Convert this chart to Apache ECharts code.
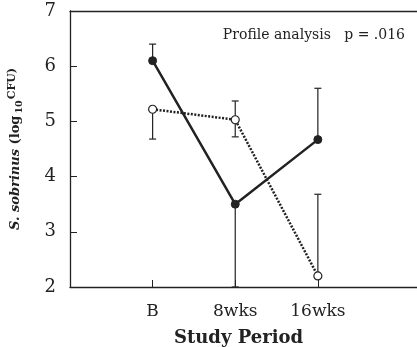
<!DOCTYPE html>
<html>
<head>
<meta charset="utf-8">
<script src="https://cdn.jsdelivr.net/npm/echarts@6/dist/echarts.min.js"></script>
<style>
  html, body { margin: 0; padding: 0; background: #fff; }
  #chart { width: 417px; height: 347px; }
</style>
</head>
<body>
<div id="chart"></div>
<script>
// categories on the x axis (placed at 1, 2, 3)
var categories = ['B', '8wks', '16wks'];
var catPos = [1, 2, 3];

// filled circles, solid line
var solidMean = [6.1, 3.5, 4.67];
var solidUpper = [6.4, null, 5.6];
var solidLower = [null, 2.0, null];

// open circles, dotted line
var openMean = [5.22, 5.03, 2.2];
var openUpper = [null, 5.37, 3.68];
var openLower = [4.68, 4.72, null];

var yTicks = [2, 3, 4, 5, 6, 7];

var serif = 'DejaVu Serif';
var ink = '#222';

function pairs(vals) {
  return vals.map(function (v, i) { return [catPos[i], v]; });
}

function errData(mean, upper, lower) {
  return mean.map(function (m, i) {
    return [catPos[i], m, upper[i] == null ? m : upper[i], lower[i] == null ? m : lower[i]];
  });
}

function renderErr(params, api) {
  var x = api.value(0);
  var m = api.coord([x, api.value(1)]);
  var hi = api.coord([x, api.value(2)]);
  var lo = api.coord([x, api.value(3)]);
  var cap = 3.5;
  var st = { stroke: ink, lineWidth: 1.2 };
  var kids = [];
  if (hi[1] < m[1] - 0.5) {
    kids.push({ type: 'line', shape: { x1: m[0], y1: m[1], x2: hi[0], y2: hi[1] }, style: st });
    kids.push({ type: 'line', shape: { x1: hi[0] - cap, y1: hi[1], x2: hi[0] + cap, y2: hi[1] }, style: st });
  }
  if (lo[1] > m[1] + 0.5) {
    kids.push({ type: 'line', shape: { x1: m[0], y1: m[1], x2: lo[0], y2: lo[1] }, style: st });
    kids.push({ type: 'line', shape: { x1: lo[0] - cap, y1: lo[1], x2: lo[0] + cap, y2: lo[1] }, style: st });
  }
  return { type: 'group', children: kids };
}

var chart = echarts.init(document.getElementById('chart'));

var option = {
  animation: false,
  grid: { left: 70, right: 0, top: 11, bottom: 60, outerBoundsMode: 'none' },
  xAxis: [
    {
      type: 'value',
      min: 0,
      max: 4.2,
      splitLine: { show: false },
      axisLine: { show: true, lineStyle: { color: ink, width: 1.3 } },
      axisTick: { show: true, inside: true, length: 7, customValues: catPos, lineStyle: { color: ink } },
      axisLabel: {
        customValues: catPos,
        formatter: function (v) { return categories[catPos.indexOf(v)] || ''; },
        color: ink, fontFamily: serif, fontSize: 17, margin: 16
      },
      name: 'Study Period',
      nameLocation: 'middle',
      nameGap: 42,
      nameTextStyle: { color: ink, fontFamily: serif, fontSize: 18, fontWeight: 'bold', padding: [0, 10, 0, 0] }
    },
    {
      type: 'value',
      position: 'top',
      min: 0,
      max: 4.2,
      splitLine: { show: false },
      axisLine: { show: true, lineStyle: { color: ink, width: 1.3 } },
      axisTick: { show: false },
      axisLabel: { show: false }
    }
  ],
  yAxis: {
    type: 'value',
    min: 2,
    max: 7,
    interval: 1,
    splitLine: { show: false },
    axisLine: { show: true, lineStyle: { color: ink, width: 1.3 } },
    axisTick: { show: true, inside: true, length: 7, customValues: [3, 4, 5, 6], lineStyle: { color: ink } },
    axisLabel: { customValues: yTicks, color: ink, fontFamily: serif, fontSize: 18, margin: 14 },
    name: '{it|S. sobrinus }{b|(log}{sub|10}{sup|CFU)}',
    nameLocation: 'middle',
    nameGap: 45,
    nameTextStyle: {
      color: ink, fontFamily: serif, fontSize: 12, fontWeight: 'bold',
      rich: {
        it: { fontFamily: serif, fontSize: 13, fontWeight: 'bold', fontStyle: 'italic', color: ink, verticalAlign: 'middle', lineHeight: 18 },
        b: { fontFamily: serif, fontSize: 13, fontWeight: 'bold', color: ink, verticalAlign: 'middle', lineHeight: 18 },
        sub: { fontFamily: serif, fontSize: 9.5, fontWeight: 'bold', color: ink, verticalAlign: 'bottom', lineHeight: 18, padding: [0, 1, 0, 2] },
        sup: { fontFamily: serif, fontSize: 11, fontWeight: 'bold', color: ink, verticalAlign: 'top', lineHeight: 18 }
      }
    }
  },
  graphic: [
    {
      type: 'text',
      right: 12,
      top: 28,
      style: { text: 'Profile analysis   p = .016', fill: ink, font: '14px "DejaVu Serif"' }
    }
  ],
  series: [
    {
      type: 'custom',
      renderItem: renderErr,
      data: errData(openMean, openUpper, openLower),
      encode: { x: 0, y: [1, 2, 3] },
      z: 1
    },
    {
      type: 'custom',
      renderItem: renderErr,
      data: errData(solidMean, solidUpper, solidLower),
      encode: { x: 0, y: [1, 2, 3] },
      z: 1
    },
    {
      type: 'line',
      data: pairs(openMean),
      symbol: 'circle',
      symbolSize: 8,
      lineStyle: { color: ink, width: 2.5, type: [2, 1.5] },
      itemStyle: { color: '#fff', borderColor: ink, borderWidth: 1.2 },
      z: 3
    },
    {
      type: 'line',
      data: pairs(solidMean),
      symbol: 'circle',
      symbolSize: 8,
      lineStyle: { color: ink, width: 2.5 },
      itemStyle: { color: ink, borderColor: ink },
      z: 4
    }
  ]
};

chart.setOption(option);
</script>
</body>
</html>
